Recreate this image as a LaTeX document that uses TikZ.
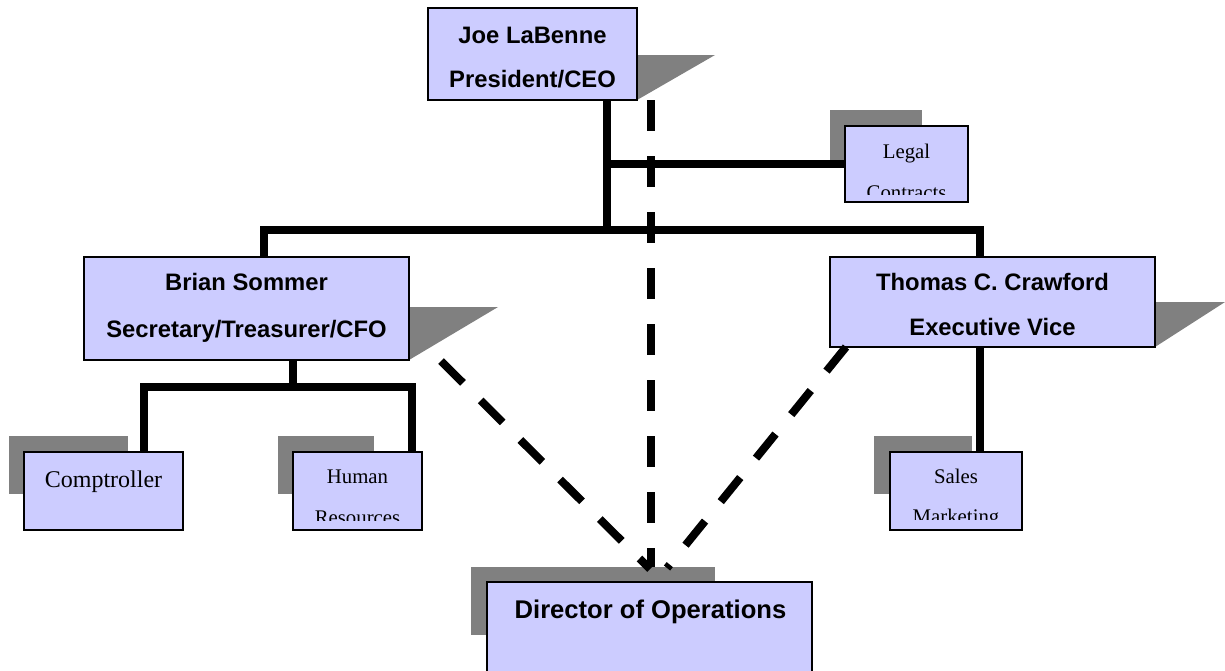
\documentclass[tikz,border=0pt]{standalone}
\usepackage{fontspec}
\setmainfont{Liberation Serif}
\newfontfamily\arialfont{Liberation Sans}
\definecolor{boxfill}{HTML}{CCCCFF}
\definecolor{shadowgray}{HTML}{808080}
\begin{document}
\begin{tikzpicture}[x=1pt,y=-1pt,
  box/.style={draw=black, line width=1.2pt, fill=boxfill, inner sep=0pt, outer sep=0pt},
  shad/.style={fill=shadowgray, draw=none, inner sep=0pt, outer sep=0pt},
  nm/.style={font=\arialfont\bfseries\fontsize{23.8}{28}\selectfont, anchor=base, inner sep=0pt},
  dir/.style={font=\arialfont\bfseries\fontsize{25.6}{30}\selectfont, anchor=base, inner sep=0pt},
  tm/.style={font=\fontsize{20.8}{24}\selectfont, anchor=base, inner sep=0pt},
  tmbig/.style={font=\fontsize{24}{28}\selectfont, anchor=base, inner sep=0pt},
  org/.style={line width=8pt, draw=black, line cap=butt, line join=miter},
  dotline/.style={line width=8pt, draw=black, line cap=butt, dash pattern=on 31pt off 25pt}]
\useasboundingbox (0,0) rectangle (1225,670);
\fill[white] (0,0) rectangle (1225,670);

% ---------- shadows ----------
\fill[shadowgray] (637,55) -- (715,55) -- (637,100) -- cycle;
\fill[shadowgray] (409,307) -- (498,307) -- (409,360) -- cycle;
\fill[shadowgray] (1155,302) -- (1225,302) -- (1155,347) -- cycle;
\node[shad, minimum width=92pt, minimum height=52pt] (legs) at (876,136) {};
\node[shad, minimum width=119pt, minimum height=58pt] (comps) at (68.5,465) {};
\node[shad, minimum width=96pt, minimum height=58pt] (hrs) at (326,465) {};
\node[shad, minimum width=98pt, minimum height=58pt] (sals) at (923,465) {};
\node[shad, minimum width=244pt, minimum height=68pt] (dops) at (593,601) {};

% ---------- boxes ----------
\node[box, minimum width=209pt, minimum height=92pt] (ceo) at (532.5,54) {};
\node[box, minimum width=123pt, minimum height=76pt] (legal) at (906.5,164) {};
\node[box, minimum width=325pt, minimum height=103pt] (bs) at (246.5,308.5) {};
\node[box, minimum width=325pt, minimum height=90pt] (tc) at (992.5,302) {};
\node[box, minimum width=159pt, minimum height=78pt] (comp) at (103.5,491) {};
\node[box, minimum width=129pt, minimum height=78pt] (hr) at (357.5,491) {};
\node[box, minimum width=132pt, minimum height=78pt] (sales) at (956,491) {};
\node[box, minimum width=325pt, minimum height=120pt] (dop) at (649.5,642) {};

% ---------- junction coordinates ----------
\coordinate (j1) at (607,230);
\coordinate (bsx) at (264,0);
\coordinate (tcx) at (980,0);
\coordinate (j2) at (293,387);
\coordinate (cx) at (144,0);
\coordinate (hx) at (412,0);
\coordinate (dx) at (651,0);
\coordinate (d1) at (441,361);
\coordinate (d2) at (650,569);
\coordinate (d3) at (846,347);
\coordinate (d4) at (667,568);

% ---------- solid org lines ----------
\draw[org] (ceo.south -| j1) -- (j1);
\draw[org] (j1 |- legal.west) -- (legal.west);
\draw[org] (bs.north -| bsx) |- (j1) -| (tc.north -| tcx);
\draw[org] (bs.south -| j2) -- (j2);
\draw[org] (comp.north -| cx) |- (j2) -| (hr.north -| hx);
\draw[org] (tc.south -| tcx) -- (sales.north -| tcx);

% ---------- dashed lines ----------
\draw[dotline] (ceo.south -| dx) -- (dops.north -| dx);
\draw[dotline] (d1) -- (d2);
\draw[dotline] (d3) -- (d4);

% ---------- texts ----------
\node[nm] (ceot1) at (532.5,43) {Joe LaBenne};
\node[nm] (ceot2) at (532.5,87) {President/CEO};
\node[nm] (bst1) at (246.5,290) {Brian Sommer};
\node[nm] (bst2) at (246.5,337) {Secretary/Treasurer/CFO};
\node[nm] (tct1) at (992.5,290) {Thomas C. Crawford};
\node[nm] (tct2) at (992.5,335) {Executive Vice};
\node[dir] (dopt) at (650.5,618) {Director of Operations};
\node[tmbig] (compt) at (103.5,487) {Comptroller};
\begin{scope}
  \clip (845,126) rectangle (968,194);
  \node[tm] (legt1) at (906.5,158) {Legal};
  \node[tm] (legt2) at (906.5,199) {Contracts};
\end{scope}
\begin{scope}
  \clip (293,452) rectangle (422,520);
  \node[tm] (hrt1) at (357.5,483) {Human};
  \node[tm] (hrt2) at (357.5,524) {Resources};
\end{scope}
\begin{scope}
  \clip (890,452) rectangle (1022,519);
  \node[tm] (salt1) at (956,483) {Sales};
  \node[tm] (salt2) at (956,523.5) {Marketing};
\end{scope}
\end{tikzpicture}
\end{document}
